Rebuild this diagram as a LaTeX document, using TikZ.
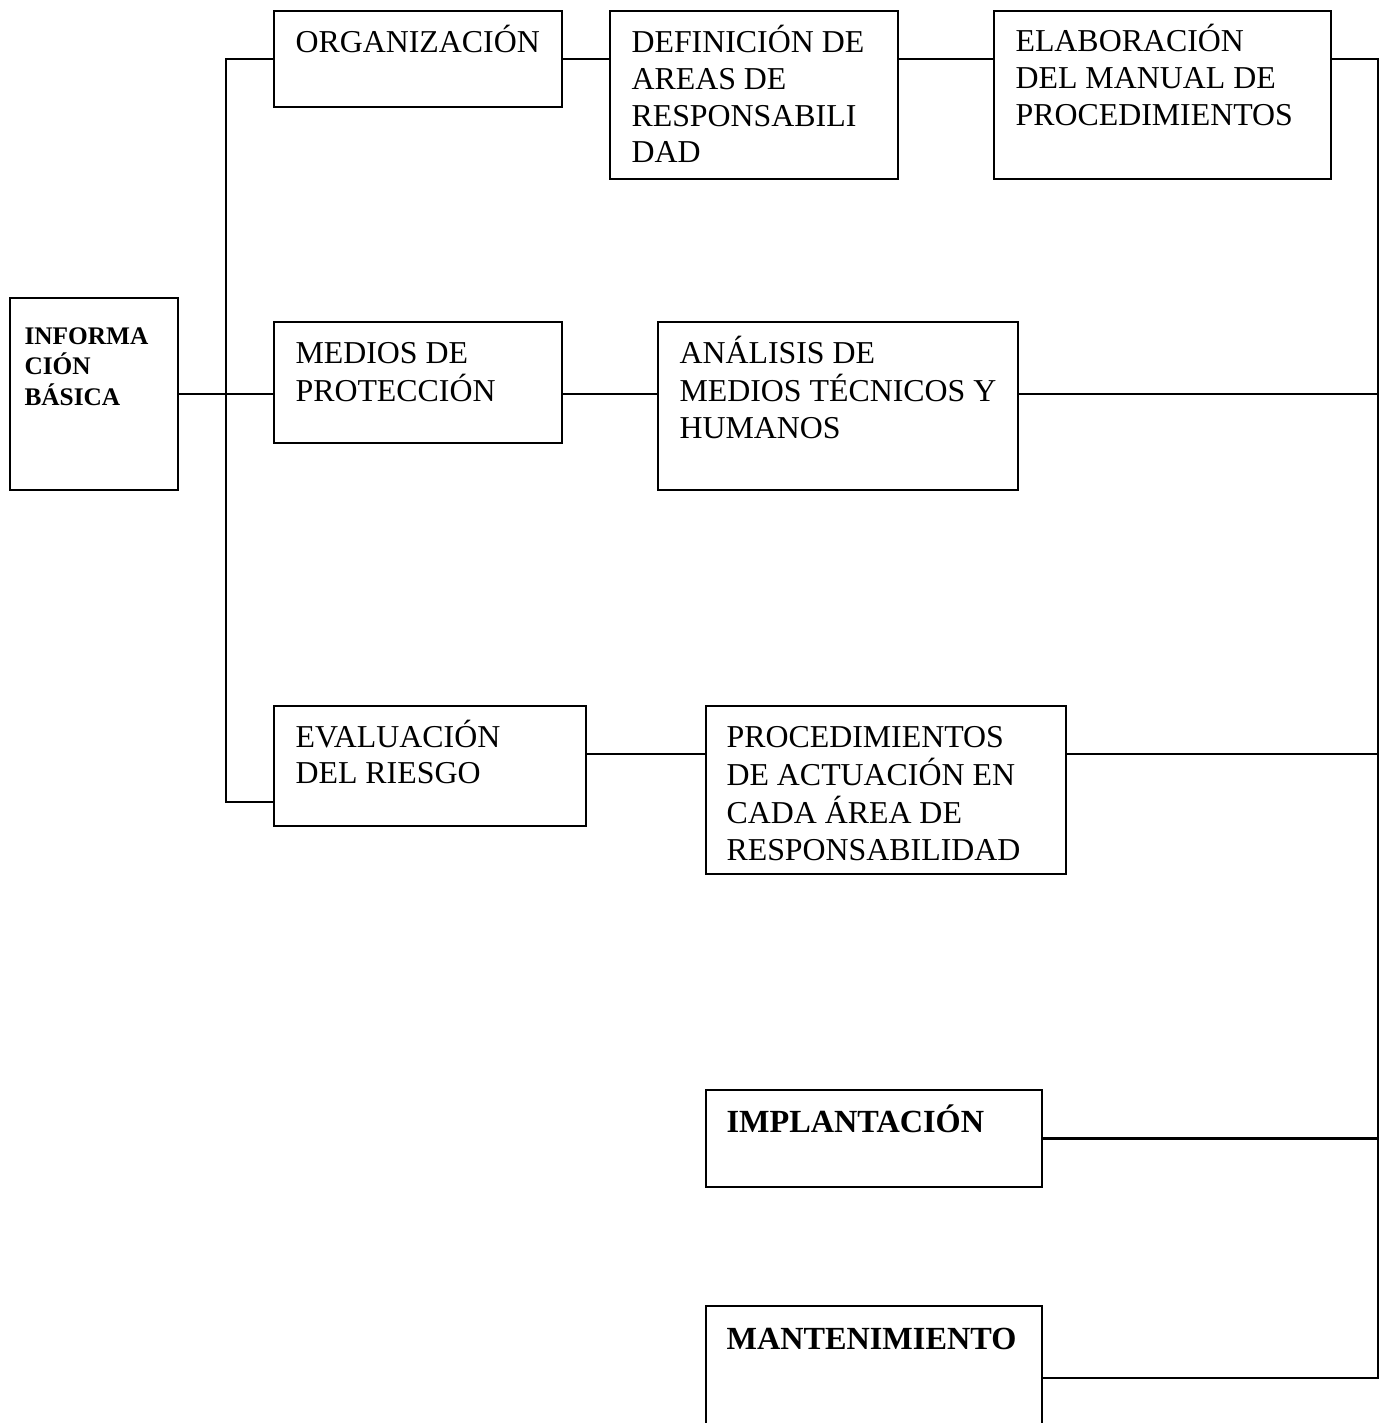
\documentclass[tikz,border=0pt]{standalone}
\usepackage{fontspec}
\setmainfont{Liberation Serif}
\usetikzlibrary{fit,calc}
\newcommand\txtlines[1]{\begin{tabular}[t]{@{}l@{}}#1\end{tabular}}
\begin{document}
\begin{tikzpicture}[x=0.375pt,y=-0.375pt,
  box/.style={draw, line width=0.9pt, inner sep=0pt, outer sep=0pt},
  txt/.style={inner sep=0pt, anchor=base west, font=\fontsize{11.95}{13.75}\selectfont},
  btxt/.style={inner sep=0pt, anchor=base west, font=\fontsize{12.1}{14}\selectfont\bfseries},
  stxt/.style={inner sep=0pt, anchor=base west, font=\fontsize{9.5}{11.4}\selectfont\bfseries},
  conn/.style={line width=0.9pt}]
\useasboundingbox (0,0) rectangle (1386,1423);
\clip (0,0) rectangle (1386,1423);
% boxes
\node[box, fit={(10,298) (178,490)}] (info) {};
\node[box, fit={(274,11) (562,107)}] (org) {};
\node[box, fit={(610,11) (898,179)}] (def) {};
\node[box, fit={(994,11) (1331,179)}] (elab) {};
\node[box, fit={(274,322) (562,443)}] (med) {};
\node[box, fit={(658,322) (1018,490)}] (anal) {};
\node[box, fit={(274,706) (586,826)}] (eval) {};
\node[box, fit={(706,706) (1066,874)}] (proc) {};
\node[box, fit={(706,1090) (1042,1187)}] (impl) {};
\node[box, fit={(706,1306) (1042,1450)}] (mant) {};
% texts
\node[stxt] (infoT) at ($(info.north west)+(14,46)$) {\txtlines{INFORMA\\CIÓN\\BÁSICA}};
\node[txt] (orgT) at ($(org.north west)+(21,42)$) {ORGANIZACIÓN};
\node[txt] (defT) at ($(def.north west)+(21,42)$) {\txtlines{DEFINICIÓN DE\\AREAS DE\\RESPONSABILI\\DAD}};
\node[txt] (elabT) at ($(elab.north west)+(21,41)$) {\txtlines{ELABORACIÓN\\DEL MANUAL DE\\PROCEDIMIENTOS}};
\node[txt] (medT) at ($(med.north west)+(21,41)$) {\txtlines{MEDIOS DE\\PROTECCIÓN}};
\node[txt] (analT) at ($(anal.north west)+(21,41)$) {\txtlines{ANÁLISIS DE\\MEDIOS TÉCNICOS Y\\HUMANOS}};
\node[txt] (evalT) at ($(eval.north west)+(21,41)$) {\txtlines{EVALUACIÓN\\DEL RIESGO}};
\node[txt] (procT) at ($(proc.north west)+(20,41)$) {\txtlines{PROCEDIMIENTOS\\DE ACTUACIÓN EN\\CADA ÁREA DE\\RESPONSABILIDAD}};
\node[btxt] (implT) at ($(impl.north west)+(20,42)$) {IMPLANTACIÓN};
\node[btxt] (mantT) at ($(mant.north west)+(20,43)$) {MANTENIMIENTO};
% bus coordinates
\coordinate (lbT) at (226,59);
\coordinate (lbB) at (226,802);
\coordinate (rbT) at (1378,59);
\coordinate (rbB) at (1378,1378);
\coordinate (r2) at (1378,394);
\coordinate (r3) at (1378,754);
% connectors
\draw[conn] (org.west) -- (lbT) -- (lbB) -- (lbB -| eval.west);
\draw[conn] (info.east) -- (info.east -| med.west);
\draw[conn] (org.east) -- (org.east -| def.west);
\draw[conn] (lbT -| def.east) -- (lbT -| elab.west);
\draw[conn] (lbT -| elab.east) -- (rbT) -- (rbB) -- (rbB -| mant.east);
\draw[conn] (r2 -| med.east) -- (r2 -| anal.west);
\draw[conn] (r2 -| anal.east) -- (r2);
\draw[conn] (r3 -| eval.east) -- (r3 -| proc.west);
\draw[conn] (r3 -| proc.east) -- (r3);
\draw[conn] (impl.east) -- (impl.east -| rbT);
\end{tikzpicture}
\end{document}
